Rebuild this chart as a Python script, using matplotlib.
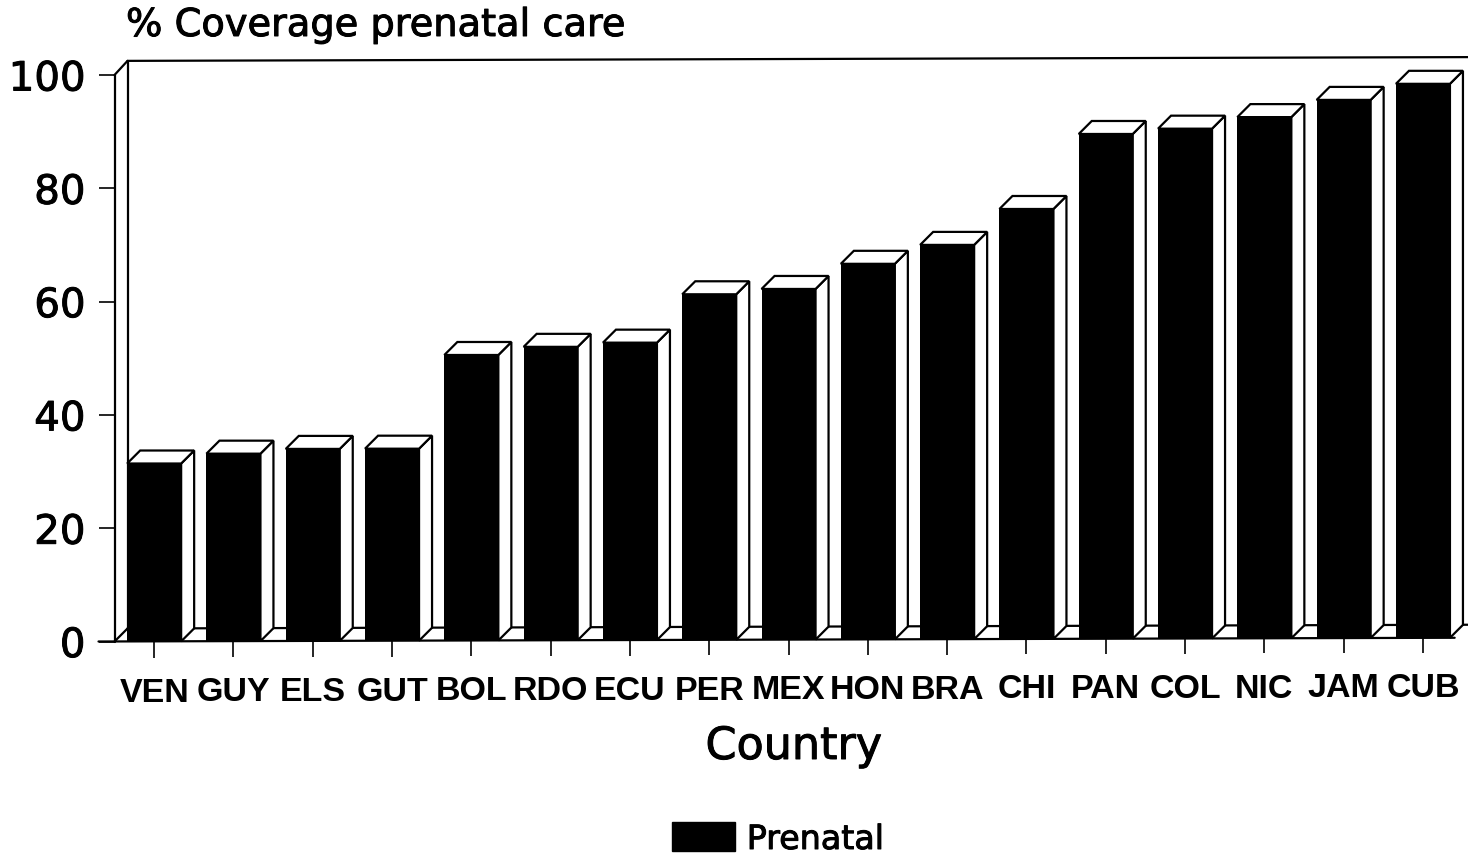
import matplotlib
matplotlib.use("Agg")
import matplotlib.pyplot as plt
import matplotlib.patheffects as pe
from matplotlib.patches import Polygon, Patch
from matplotlib.transforms import ScaledTranslation

countries = ["VEN", "GUY", "ELS", "GUT", "BOL", "RDO", "ECU", "PER", "MEX",
             "HON", "BRA", "CHI", "PAN", "COL", "NIC", "JAM", "CUB"]
prenatal = [31.4, 33.1, 33.9, 33.9, 50.4, 51.8, 52.5, 61.0, 61.9,
            66.3, 69.6, 75.9, 89.1, 90.0, 92.0, 95.0, 97.8]
yticks = [0, 20, 40, 60, 80, 100]

plt.rcParams['font.family'] = ['DejaVu Sans']

W, H = 1468, 857
fig = plt.figure(figsize=(W / 100, H / 100), dpi=100)
ax = fig.add_axes([114.5 / W, (H - 641.5) / H, 79.3 * 17 / W, 566.5 / H])
ax.set_xlim(-0.5, 16.5)
ax.set_ylim(0, 100)
for s in ax.spines.values():
    s.set_visible(False)

# scan is slightly rotated, floor climbs to the right
tilt = 0.039
dx = 13 / 79.3
dy = 13 / 5.665
bw = 54 / 79.3
lw = 1.6
heavy = [pe.withStroke(linewidth=0.7, foreground="black")]


def lift(x):
    return tilt * (x + 0.5)


def line(xs, ys, z=1):
    ax.plot(xs, ys, color="black", lw=lw, clip_on=False, zorder=z,
            solid_capstyle="round")


# walls and floor
x_back = -0.5 + dx
x_end = 16.5 + 0.07
line([-0.5, -0.5], [0, 100])
line([-0.5, x_back], [100, 100 + dy + 0.2])
line([x_back, x_end], [100 + dy + 0.2, 100 + dy + 0.2 + tilt * 17])
line([x_back, x_back], [lift(0) + dy, 100 + dy + 0.2])
line([-0.5, x_back], [0, dy])
line([-0.5 - 16 / 79.3, 16.4], [0, lift(16.4)])
line([x_back, x_end], [dy, dy + tilt * 17])

# 3d bars
for i, v in enumerate(prenatal):
    b = lift(i)
    l = i - bw / 2
    r = i + bw / 2
    side = [(r, b), (r + dx, b + dy), (r + dx, b + v + dy), (r, b + v)]
    top = [(l, b + v), (l + dx, b + v + dy), (r + dx, b + v + dy), (r, b + v)]
    ax.add_patch(Polygon(side, fc="white", ec="black", lw=lw, zorder=2, clip_on=False))
    ax.add_patch(Polygon(top, fc="white", ec="black", lw=lw, zorder=2, clip_on=False))
ax.bar(range(len(countries)), prenatal, width=bw,
       bottom=[lift(i) for i in range(len(countries))],
       color="black", zorder=3, clip_on=False)

ax.set_yticks(yticks)
ax.set_yticklabels([str(t) for t in yticks], fontsize=29, path_effects=heavy)
ax.tick_params(axis="y", length=11.5, width=1.2, pad=9.5)
ax.set_xticks(range(len(countries)))
ax.set_xticklabels(countries, fontsize=24.5, fontweight="bold",
                   family=['Liberation Sans', 'DejaVu Sans'])
ax.tick_params(axis="x", length=11.5, width=1.2, pad=14.5)

# ticks and labels follow the tilt too
for i, tick in enumerate(ax.xaxis.get_major_ticks()):
    shift = ScaledTranslation(0, tilt * i * 5.665 * 1.3 / 100, fig.dpi_scale_trans)
    tick.tick1line.set_transform(tick.tick1line.get_transform() + shift)
    tick.label1.set_transform(tick.label1.get_transform() + shift)

ax.set_xlabel("Country", fontsize=32, path_effects=heavy)
ax.xaxis.set_label_coords((794 - 114.5) / (79.3 * 17), -(725 - 641.5) / 566.5)
ax.xaxis.label.set_verticalalignment("top")

fig.text(126 / W, 1 - 26 / H, "% Coverage prenatal care", fontsize=27.6,
         va="center", ha="left", path_effects=heavy)

leg = fig.legend(handles=[Patch(fc="black", ec="black", label="Prenatal")],
                 loc="lower left", bbox_to_anchor=(672 / W, 1 - 855 / H),
                 frameon=False, fontsize=24, handlelength=63 / 33.3,
                 handleheight=31 / 33.3, handletextpad=0.35,
                 borderpad=0, borderaxespad=0)
for t in leg.get_texts():
    t.set_path_effects(heavy)
    t.set_y(-1)

fig.savefig("out.png", dpi=100)
